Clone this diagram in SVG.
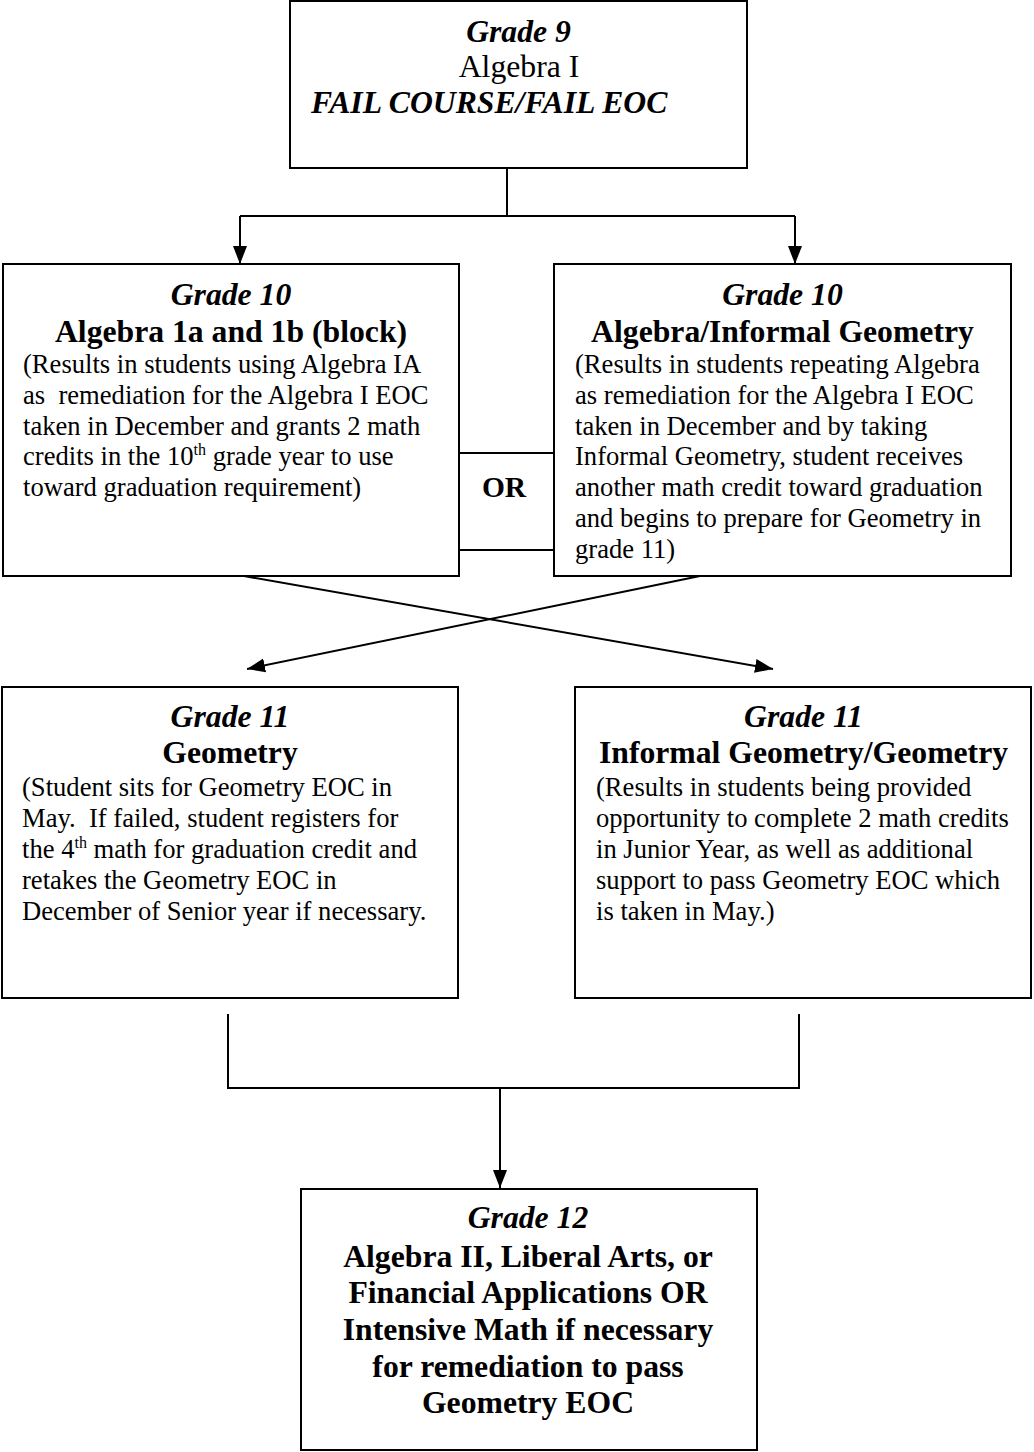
<svg xmlns="http://www.w3.org/2000/svg" width="1034" height="1452" viewBox="0 0 1034 1452">
<style>
.box{fill:#fff;stroke:#000;stroke-width:2}
.ln{fill:none;stroke:#000;stroke-width:2}
text{font-family:"Liberation Serif","Times New Roman",serif;fill:#000}
.hd{font-size:31.7px;font-weight:bold;font-style:italic;text-anchor:middle}
.tt{font-size:31.7px;font-weight:bold;text-anchor:middle}
.rg{font-size:31.7px;text-anchor:middle}
.bd{font-size:26.6px}
.sup{font-size:16px}
</style>
<defs>
<marker id="ah" viewBox="0 0 10 10" refX="10" refY="5" markerWidth="18" markerHeight="18" markerUnits="userSpaceOnUse" orient="auto">
<path d="M0,1.1 L10,5 L0,8.9 z" fill="#000"/>
</marker>
</defs>
<g id="connectors">
<path class="ln" d="M507,168 V216"/>
<path class="ln" d="M240,216 H795"/>
<path class="ln" d="M240,216 V264" marker-end="url(#ah)"/>
<path class="ln" d="M795,216 V264" marker-end="url(#ah)"/>
<path class="ln" d="M244,576 L773,669" marker-end="url(#ah)"/>
<path class="ln" d="M700,576 L247,669" marker-end="url(#ah)"/>
<path class="ln" d="M228,1014 V1088"/>
<path class="ln" d="M799,1014 V1088"/>
<path class="ln" d="M227,1088 H800"/>
<path class="ln" d="M500,1088 V1188" marker-end="url(#ah)"/>
</g>
<g id="or">
<path class="ln" d="M459,453 H554 M459,550 H554"/>
<text class="tt" x="504" y="497" style="font-size:29.5px">OR</text>
</g>
<g id="grade9">
<rect class="box" x="290" y="1" width="457" height="167"/>
<text class="hd" x="518.5" y="42">Grade 9</text>
<text class="rg" x="519" y="77">Algebra I</text>
<text class="hd" x="311" y="113" style="text-anchor:start">FAIL COURSE/FAIL EOC</text>
</g>
<g id="grade10a">
<rect class="box" x="3" y="264" width="456" height="312"/>
<text class="hd" x="231" y="305">Grade 10</text>
<text class="tt" x="231" y="342">Algebra 1a and 1b (block)</text>
<text class="bd" x="23" y="373">(Results in students using Algebra IA</text>
<text class="bd" x="23" y="404" xml:space="preserve">as  remediation for the Algebra I EOC</text>
<text class="bd" x="23" y="435">taken in December and grants 2 math</text>
<text class="bd" x="23" y="465">credits in the 10<tspan class="sup" dy="-10">th</tspan><tspan dy="10"> grade year to use</tspan></text>
<text class="bd" x="23" y="496">toward graduation requirement)</text>
</g>
<g id="grade10b">
<rect class="box" x="554" y="264" width="457" height="312"/>
<text class="hd" x="782.5" y="305">Grade 10</text>
<text class="tt" x="782.5" y="342">Algebra/Informal Geometry</text>
<text class="bd" x="575" y="373">(Results in students repeating Algebra</text>
<text class="bd" x="575" y="404">as remediation for the Algebra I EOC</text>
<text class="bd" x="575" y="435">taken in December and by taking</text>
<text class="bd" x="575" y="465">Informal Geometry, student receives</text>
<text class="bd" x="575" y="496">another math credit toward graduation</text>
<text class="bd" x="575" y="527">and begins to prepare for Geometry in</text>
<text class="bd" x="575" y="558">grade 11)</text>
</g>
<g id="grade11a">
<rect class="box" x="2" y="687" width="456" height="311"/>
<text class="hd" x="230" y="727">Grade 11</text>
<text class="tt" x="230" y="763">Geometry</text>
<text class="bd" x="22" y="796">(Student sits for Geometry EOC in</text>
<text class="bd" x="22" y="827" xml:space="preserve">May.  If failed, student registers for</text>
<text class="bd" x="22" y="858">the 4<tspan class="sup" dy="-10">th</tspan><tspan dy="10"> math for graduation credit and</tspan></text>
<text class="bd" x="22" y="889">retakes the Geometry EOC in</text>
<text class="bd" x="22" y="920">December of Senior year if necessary.</text>
</g>
<g id="grade11b">
<rect class="box" x="575" y="687" width="456" height="311"/>
<text class="hd" x="803.5" y="727">Grade 11</text>
<text class="tt" x="803.5" y="763">Informal Geometry/Geometry</text>
<text class="bd" x="596" y="796">(Results in students being provided</text>
<text class="bd" x="596" y="827">opportunity to complete 2 math credits</text>
<text class="bd" x="596" y="858">in Junior Year, as well as additional</text>
<text class="bd" x="596" y="889">support to pass Geometry EOC which</text>
<text class="bd" x="596" y="920">is taken in May.)</text>
</g>
<g id="grade12">
<rect class="box" x="301" y="1189" width="456" height="261"/>
<text class="hd" x="528" y="1228">Grade 12</text>
<text class="tt" x="528" y="1267">Algebra II, Liberal Arts, or</text>
<text class="tt" x="528" y="1303">Financial Applications OR</text>
<text class="tt" x="528" y="1340">Intensive Math if necessary</text>
<text class="tt" x="528" y="1377">for remediation to pass</text>
<text class="tt" x="528" y="1413">Geometry EOC</text>
</g>
</svg>
